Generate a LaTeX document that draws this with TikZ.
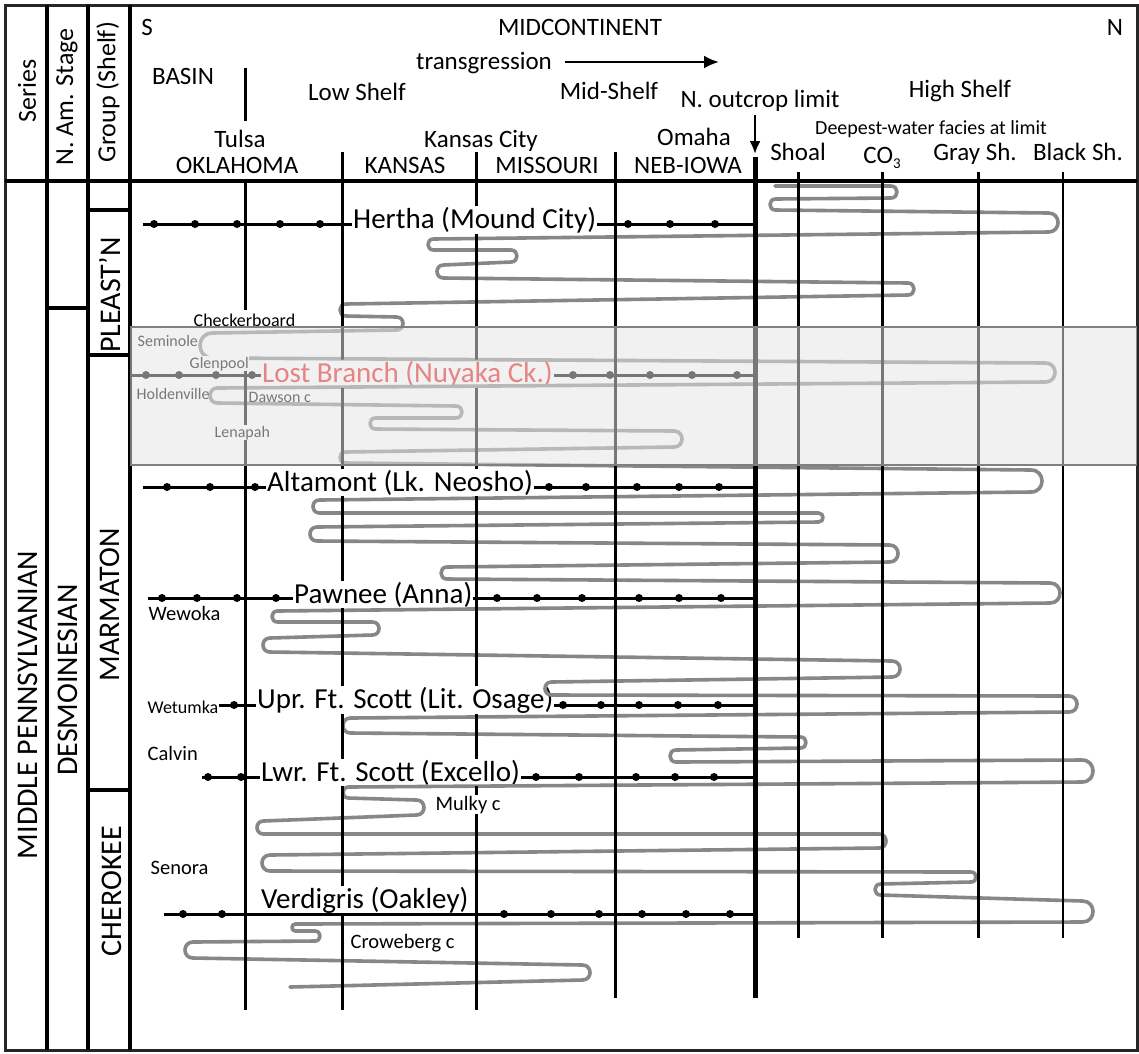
\documentclass[tikz,border=0pt]{standalone}
\usepackage{fontspec}
\setmainfont{Carlito}
\usetikzlibrary{arrows.meta}
\definecolor{curvegray}{RGB}{135,135,135}
\definecolor{bandfill}{gray}{0.9}
\definecolor{bandedge}{RGB}{128,128,128}
\definecolor{lostred}{RGB}{235,25,25}
\newcommand\myfs[1]{\fontsize{#1}{#1}\selectfont}
\tikzset{
 curve/.style={draw=curvegray, line width=3.6pt, line join=round, line cap=round},
 vl/.style={line width=3pt},
 marker/.style={line width=3pt},
 biglab/.style={font=\myfs{29}, fill=white, inner sep=1pt, anchor=base west},
 smlab/.style={font=\myfs{20.5}, inner sep=0.5pt, anchor=base west},
 bandlab/.style={font=\myfs{16}, inner sep=0.5pt, anchor=base west},
 hdr/.style={font=\myfs{25}, inner sep=0pt, anchor=base},
 rot/.style={rotate=90, inner sep=0pt},
 rt/.style n args={3}{insert path={-- ({#1-(#3-#2)/2},#2) .. controls ({#1+(#3-#2)/6},#2) and ({#1+(#3-#2)/6},#3) .. ({#1-(#3-#2)/2},#3)}},
 lt/.style n args={3}{insert path={-- ({#1+(#3-#2)/2},#2) .. controls ({#1-(#3-#2)/6},#2) and ({#1-(#3-#2)/6},#3) .. ({#1+(#3-#2)/2},#3)}},
}
\newcommand\curvepath{(775,186)
 [rt={897}{186}{198}] [lt={770}{199}{210}] [rt={1058}{213}{232}] [lt={428}{239}{250}]
 [rt={517}{250}{262}] [lt={437}{265}{278}] [rt={914}{283}{295}] [lt={340}{304}{316}]
 [rt={403}{317}{330}] [lt={200}{333}{358}] [rt={1055}{363}{382}] [lt={210}{388}{403}]
 [rt={462}{406}{418}] [lt={370}{418}{429}] [rt={682}{431}{447}] [lt={340}{452}{463}]
 [rt={1042}{470}{492}] [lt={313}{500}{513}] [rt={823}{513}{522}] [lt={310}{527}{541}]
 [rt={898}{545}{562}] [lt={441}{567}{579}] [rt={1060}{583}{603}] [lt={272}{611}{622}]
 [rt={379}{622}{635}] [lt={263}{638}{652}] [rt={900}{661}{677}] [lt={545}{682}{695}]
 [rt={1077}{696}{712}] [lt={343}{718}{733}] [rt={806}{737}{748}] [lt={670}{750}{762}]
 [rt={1093}{760}{782}] [lt={343}{787}{798}] [rt={424}{800}{815}] [lt={257}{821}{834}]
 [rt={886}{834}{848}] [lt={262}{855}{871}] [rt={976}{872}{882}] [lt={875}{884}{895}]
 [rt={1093}{901}{922}] [lt={292}{924}{931}] [rt={320}{931}{941}] [lt={185}{942}{958}]
 [rt={590}{965}{980}] -- (290,987)}
\begin{document}
\begin{tikzpicture}[x=1pt,y=-1pt]
\useasboundingbox (0,0) rectangle (1139,1053);
\fill[white] (0,0) rectangle (1139,1053);

% sea-level curve (under the lines)
\draw[curve] \curvepath;

% vertical lines of the chart
\draw[vl] (245,180) -- (245,310);
\draw[vl] (245,357) -- (245,1010);
\draw[vl] (342,152) -- (342,1010);
\draw[vl] (476,152) -- (476,1010);
\draw[vl] (615,152) -- (615,998);
\draw[line width=5pt] (755,157) -- (755,998);
\draw[vl] (798,172) -- (798,938);
\draw[vl] (882,172) -- (882,938);
\draw[vl] (978,172) -- (978,938);
\draw[line width=2.2pt] (1063,172) -- (1063,938);

% frame and columns
\draw[line width=3pt, black!85] (5,5) rectangle (1137,1050);
\draw[line width=4pt] (47,5) -- (47,1050);
\draw[line width=4pt] (88,5) -- (88,1050);
\draw[line width=4pt] (130,5) -- (130,1050);
\draw[line width=4pt] (5,181) -- (1137,181);
\draw[line width=4pt] (47,308) -- (88,308);
\draw[line width=4pt] (88,210) -- (130,210);
\draw[line width=4pt] (88,355) -- (130,355);
\draw[line width=4pt] (88,790) -- (130,790);

% left column texts
\node[rot, font=\myfs{26}] (series) at (27,91) {Series};
\node[rot, font=\myfs{26}] (stage) at (67,97) {N. Am. Stage};
\node[rot, font=\myfs{26}] (group) at (108,92) {Group (Shelf)};
\node[rot, font=\myfs{30}] (midpenn) at (28,705) {MIDDLE PENNSYLVANIAN};
\node[rot, font=\myfs{30}] (desmo) at (68,680) {DESMOINESIAN};
\node[rot, font=\myfs{30}] (pleast) at (110,295) {PLEAST’N};
\node[rot, font=\myfs{30}] (marm) at (110,605) {MARMATON};
\node[rot, font=\myfs{30}] (chero) at (112,891) {CHEROKEE};

% header texts
\node[hdr] (hS) at (147,35) {S};
\node[hdr] (hmid) at (580,35) {MIDCONTINENT};
\node[hdr] (hN) at (1115,35) {N};
\node[hdr] (htrans) at (484,69) {transgression};
\coordinate (tA) at (565,62);
\coordinate (tB) at (719,62);
\draw[line width=2.5pt, -{Latex[length=15pt,width=13pt]}] (tA) -- (tB);
\node[hdr] (hbasin) at (183,84) {BASIN};
\coordinate (bt) at (245,68);
\coordinate (bb) at (245,121);
\draw[vl] (bt) -- (bb);
\node[hdr] (hlow) at (357,100) {Low Shelf};
\node[hdr] (hmidsh) at (609,99) {Mid-Shelf};
\node[hdr] (hout) at (760,107) {N. outcrop limit};
\node[hdr] (hhigh) at (960,97) {High Shelf};
\coordinate (oA) at (755,115);
\coordinate (oB) at (755,154);
\draw[line width=2.2pt, -{Latex[length=13pt,width=11pt]}] (oA) -- (oB);
\node[hdr] (htulsa) at (240,147) {Tulsa};
\node[hdr] (hok) at (237,173) {OKLAHOMA};
\node[hdr] (hkc) at (481,147) {Kansas City};
\node[hdr] (hks) at (405,173) {KANSAS};
\node[hdr] (hmo) at (547,173) {MISSOURI};
\node[hdr] (homaha) at (694,145) {Omaha};
\node[hdr] (hneb) at (688,173) {NEB-IOWA};
\node[hdr, font=\myfs{20}] (hdeep) at (931,134) {Deepest-water facies at limit};
\node[hdr] (hshoal) at (798,160) {Shoal};
\node[hdr] (hco) at (882,163) {CO\raisebox{-0.22em}{\myfs{15}3}};
\node[hdr] (hgray) at (975,160) {Gray Sh.};
\node[hdr] (hblack) at (1078,160) {Black Sh.};

% marker lines with dots
\draw[marker] (143,224) -- (755,224);
\foreach \x in {154,195,237,280,320,628,670,715} \fill (\x,224) circle (4pt);
\draw[marker] (132,375) -- (755,375);
\foreach \x in {146,179,216,252,573,610,650,692,737} \fill (\x,375) circle (4pt);
\draw[marker] (143,487) -- (755,487);
\foreach \x in {167,210,255,549,586,637,679,719} \fill (\x,487) circle (4pt);
\draw[marker] (148,598) -- (755,598);
\foreach \x in {162,197,237,276,497,537,582,639,679,721} \fill (\x,598) circle (4pt);
\draw[marker] (219,705) -- (755,705);
\foreach \x in {234,563,601,639,678,718} \fill (\x,705) circle (4pt);
\draw[marker] (202,777) -- (755,777);
\foreach \x in {208,241,536,579,636,675,714} \fill (\x,777) circle (4pt);

% bed labels
\node[biglab] (hertha) at (352,228) {Hertha (Mound City)};
\node[biglab, text=lostred] (lost) at (261,382) {Lost Branch (Nuyaka Ck.)};
\node[biglab] (alta) at (266,491) {Altamont (Lk. Neosho)};
\node[biglab] (pawnee) at (293,603) {Pawnee (Anna)};
\node[biglab] (upr) at (256,708) {Upr. Ft. Scott (Lit. Osage)};
\node[biglab] (lwr) at (260,781) {Lwr. Ft. Scott (Excello)};
\node[biglab] (verd) at (260,908) {Verdigris (Oakley)};

% small labels
\node[smlab, font=\myfs{18}] (checker) at (193,326) {Checkerboard};
\node[bandlab] (seminole) at (137,346) {Seminole};
\node[bandlab, fill=white] (glenpool) at (189,368) {Glenpool};
\node[bandlab] (holden) at (136,399) {Holdenville};
\node[bandlab] (dawson) at (248,402) {Dawson c};
\node[bandlab, fill=white] (lenapah) at (214,437) {Lenapah};
\node[smlab] (wewoka) at (148,620) {Wewoka};
\node[smlab, font=\myfs{18}] (wetumka) at (147,713) {Wetumka};
\node[smlab] (calvin) at (147,760) {Calvin};
\node[smlab, fill=white] (mulky) at (435,810) {Mulky c};
\node[smlab] (senora) at (150,874) {Senora};
\node[smlab] (crow) at (350,948) {Croweberg c};

% curve stays visible over the label boxes
\begin{scope}
\clip (hertha.south west) rectangle (hertha.north east)
      (lost.south west) rectangle (lost.north east)
      (alta.south west) rectangle (alta.north east)
      (pawnee.south west) rectangle (pawnee.north east)
      (upr.south west) rectangle (upr.north east)
      (lwr.south west) rectangle (lwr.north east)
      (verd.south west) rectangle (verd.north east)
      (mulky.south west) rectangle (mulky.north east);
\draw[curve] \curvepath;
\end{scope}

% Verdigris marker drawn over its label
\draw[marker] (164,914) -- (755,914);
\foreach \x in {183,222,504,551,599,642,686,730} \fill (\x,914) circle (4pt);

% translucent band
\fill[bandfill, fill opacity=0.52] (130,327) rectangle (1137,465);
\draw[bandedge, line width=2.6pt] (130,327) -- (1137,327) (130,465) -- (1137,465);
\end{tikzpicture}
\end{document}
